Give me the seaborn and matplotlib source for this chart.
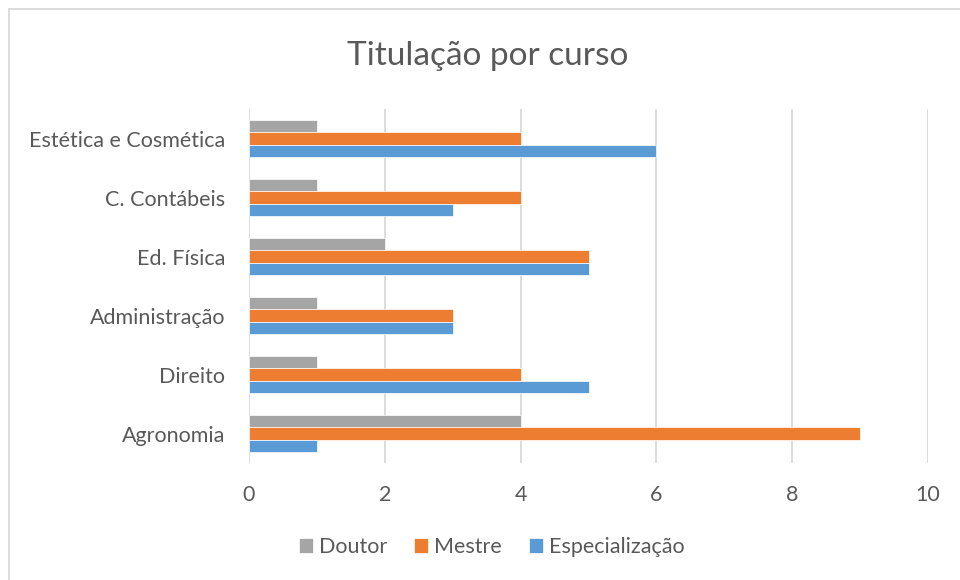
import pandas as pd
import matplotlib.pyplot as plt
import seaborn as sns
from matplotlib.patches import Rectangle

# data
cursos = ['Estética e Cosmética', 'C. Contábeis', 'Ed. Física',
          'Administração', 'Direito', 'Agronomia']
doutor = [1, 1, 2, 1, 1, 4]
mestre = [4, 4, 5, 3, 4, 9]
especializacao = [6, 3, 5, 3, 5, 1]
titulos = ['Doutor', 'Mestre', 'Especialização']
cores = ['#A5A5A5', '#ED7D31', '#5B9BD5']
x_ticks = [0, 2, 4, 6, 8, 10]

df = pd.DataFrame({'Curso': cursos * 3,
                   'Titulação': [t for t in titulos for _ in cursos],
                   'Qtd': doutor + mestre + especializacao})

sns.set_theme(style='white')
plt.rcParams['font.family'] = ['Lato', 'DejaVu Sans']
txt = '#595959'

fig = plt.figure(figsize=(9.6, 5.8), dpi=100)
ax = fig.add_axes([0.2594, 0.2017, 0.7073, 0.6103])

sns.barplot(data=df, x='Qtd', y='Curso', hue='Titulação', order=cursos,
            hue_order=titulos, palette=cores, saturation=1, orient='h',
            width=0.63, gap=0, edgecolor='white', linewidth=0.5, ax=ax, zorder=3)

ax.set_xlim(0, 10)
ax.set_ylim(5.5, -0.5)
ax.set_xticks(x_ticks)
ax.grid(axis='x', color='#D9D9D9', linewidth=1.3, zorder=0)
ax.set_axisbelow(True)
for s in ax.spines.values():
    s.set_visible(False)
ax.tick_params(axis='both', length=0, labelsize=15.5, colors=txt)
ax.tick_params(axis='y', pad=17)
ax.tick_params(axis='x', pad=15.5)
ax.set_xlabel('')
ax.set_ylabel('')

fig.text(0.508, 0.888, 'Titulação por curso', ha='center', va='baseline',
         fontsize=24, color=txt)

ax.legend_.remove()
h, l = ax.get_legend_handles_labels()
fig.legend(h, l, loc='center', bbox_to_anchor=(0.5125, 0.057), ncol=3,
           frameon=False, fontsize=15.5, handlelength=0.65, handleheight=0.65,
           handletextpad=0.28, columnspacing=1.25, labelcolor=txt,
           borderaxespad=0, borderpad=0)

# chart frame: only left and top edges show in the reference
fig.patches.append(Rectangle((8.5 / 960, -0.1), 1.2, 1.1 - 9.5 / 580,
                             transform=fig.transFigure, fill=False,
                             edgecolor='#D9D9D9', linewidth=1.3))

fig.savefig('out.png', dpi=100)
